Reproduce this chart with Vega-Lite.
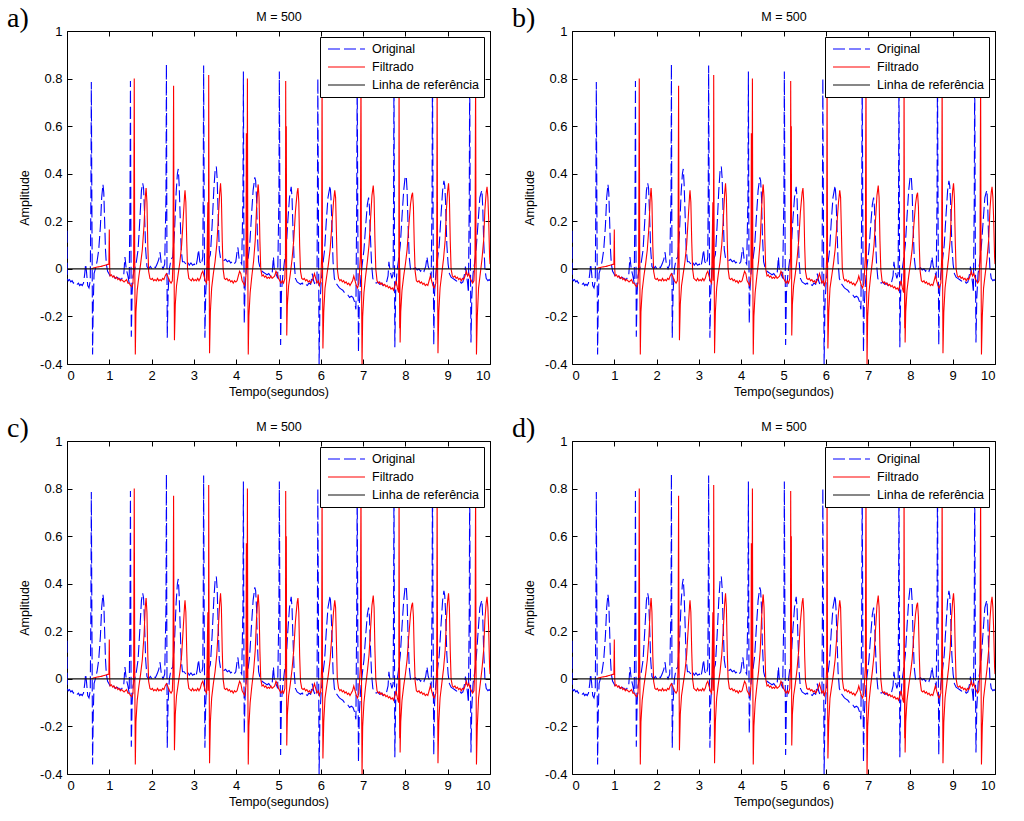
{
"$schema":"https://vega.github.io/schema/vega-lite/v6.json",
"background":"white",
"padding":{"left":6,"top":4,"right":5,"bottom":5},
"config":{
 "view":{"stroke":"black","strokeWidth":1},
 "font":"Liberation Sans",
 "axis":{"grid":false,"domain":false,"tickColor":"black","tickSize":-5,"labelFont":"Liberation Sans","labelFontSize":13,"labelColor":"black","titleFont":"Liberation Sans","titleFontSize":12.5,"titleFontWeight":"normal","titleColor":"black","labelPadding":10},
 "legend":{"orient":"top-right","offset":6,"strokeColor":"black","fillColor":"white","padding":4,"symbolType":"M-0.86,0H0.86","symbolSize":1849,"symbolOffset":0,"clipHeight":16,"symbolStrokeWidth":1.2,"labelFontSize":12.5,"labelFont":"Liberation Sans","labelColor":"black","rowPadding":2,"labelOffset":3,"cornerRadius":0}
},
"datasets":{"ecg":[
{"t":0,"v":0.16,"s":"Original"},{"t":0.005,"v":-0.04,"s":"Original"},{"t":0.03,"v":-0.05,"s":"Original"},{"t":0.06,"v":-0.045,"s":"Original"},{"t":0.09,"v":-0.055,"s":"Original"},{"t":0.12,"v":-0.05,"s":"Original"},{"t":0.15,"v":-0.06,"s":"Original"},{"t":0.18,"v":-0.055,"s":"Original"},{"t":0.21,"v":-0.06,"s":"Original"},{"t":0.24,"v":-0.065,"s":"Original"},{"t":0.27,"v":-0.06,"s":"Original"},{"t":0.3,"v":-0.07,"s":"Original"},{"t":0.33,"v":-0.065,"s":"Original"},{"t":0.36,"v":-0.07,"s":"Original"},{"t":0.39,"v":-0.06,"s":"Original"},{"t":0.42,"v":-0.02,"s":"Original"},{"t":0.44,"v":0.02,"s":"Original"},{"t":0.46,"v":-0.01,"s":"Original"},{"t":0.49,"v":-0.07,"s":"Original"},{"t":0.52,"v":-0.08,"s":"Original"},{"t":0.55,"v":-0.05,"s":"Original"},{"t":0.565,"v":0.3,"s":"Original"},{"t":0.575,"v":0.786,"s":"Original"},{"t":0.59,"v":0.2,"s":"Original"},{"t":0.605,"v":-0.36,"s":"Original"},{"t":0.62,"v":-0.15,"s":"Original"},{"t":0.64,"v":-0.02,"s":"Original"},{"t":0.67,"v":0,"s":"Original"},{"t":0.71,"v":0.03,"s":"Original"},{"t":0.75,"v":0.08,"s":"Original"},{"t":0.79,"v":0.18,"s":"Original"},{"t":0.82,"v":0.3,"s":"Original"},{"t":0.85,"v":0.355,"s":"Original"},{"t":0.87,"v":0.32,"s":"Original"},{"t":0.89,"v":0.2,"s":"Original"},{"t":0.91,"v":0.08,"s":"Original"},{"t":0.93,"v":0.02,"s":"Original"},{"t":0.96,"v":-0.01,"s":"Original"},{"t":0.99,"v":-0.02,"s":"Original"},{"t":1.02,"v":-0.03,"s":"Original"},{"t":1.06,"v":-0.035,"s":"Original"},{"t":1.1,"v":-0.03,"s":"Original"},{"t":1.14,"v":-0.04,"s":"Original"},{"t":1.18,"v":-0.035,"s":"Original"},{"t":1.22,"v":-0.04,"s":"Original"},{"t":1.26,"v":-0.045,"s":"Original"},{"t":1.3,"v":-0.04,"s":"Original"},{"t":1.34,"v":-0.03,"s":"Original"},{"t":1.37,"v":0.05,"s":"Original"},{"t":1.4,"v":0,"s":"Original"},{"t":1.44,"v":-0.03,"s":"Original"},{"t":1.47,"v":-0.06,"s":"Original"},{"t":1.49,"v":0.3,"s":"Original"},{"t":1.5,"v":0.79,"s":"Original"},{"t":1.51,"v":0.2,"s":"Original"},{"t":1.52,"v":-0.285,"s":"Original"},{"t":1.54,"v":-0.1,"s":"Original"},{"t":1.56,"v":-0.03,"s":"Original"},{"t":1.6,"v":0,"s":"Original"},{"t":1.64,"v":0.03,"s":"Original"},{"t":1.68,"v":0.08,"s":"Original"},{"t":1.72,"v":0.2,"s":"Original"},{"t":1.76,"v":0.33,"s":"Original"},{"t":1.79,"v":0.36,"s":"Original"},{"t":1.81,"v":0.34,"s":"Original"},{"t":1.83,"v":0.25,"s":"Original"},{"t":1.86,"v":0.08,"s":"Original"},{"t":1.89,"v":0.01,"s":"Original"},{"t":1.93,"v":0,"s":"Original"},{"t":1.97,"v":0.01,"s":"Original"},{"t":2.01,"v":0,"s":"Original"},{"t":2.05,"v":0.01,"s":"Original"},{"t":2.09,"v":0.005,"s":"Original"},{"t":2.13,"v":0.02,"s":"Original"},{"t":2.17,"v":0.04,"s":"Original"},{"t":2.2,"v":0.07,"s":"Original"},{"t":2.23,"v":0.02,"s":"Original"},{"t":2.27,"v":0,"s":"Original"},{"t":2.31,"v":0.02,"s":"Original"},{"t":2.34,"v":0.3,"s":"Original"},{"t":2.35,"v":0.86,"s":"Original"},{"t":2.36,"v":0.2,"s":"Original"},{"t":2.37,"v":-0.29,"s":"Original"},{"t":2.39,"v":-0.1,"s":"Original"},{"t":2.42,"v":0,"s":"Original"},{"t":2.46,"v":0.04,"s":"Original"},{"t":2.5,"v":0.05,"s":"Original"},{"t":2.54,"v":0.15,"s":"Original"},{"t":2.58,"v":0.32,"s":"Original"},{"t":2.61,"v":0.4,"s":"Original"},{"t":2.63,"v":0.42,"s":"Original"},{"t":2.65,"v":0.36,"s":"Original"},{"t":2.67,"v":0.25,"s":"Original"},{"t":2.7,"v":0.08,"s":"Original"},{"t":2.73,"v":0.03,"s":"Original"},{"t":2.77,"v":0.03,"s":"Original"},{"t":2.81,"v":0.02,"s":"Original"},{"t":2.85,"v":0.03,"s":"Original"},{"t":2.89,"v":0.015,"s":"Original"},{"t":2.93,"v":0.025,"s":"Original"},{"t":2.97,"v":0.015,"s":"Original"},{"t":3.01,"v":0.02,"s":"Original"},{"t":3.05,"v":0.01,"s":"Original"},{"t":3.08,"v":0.04,"s":"Original"},{"t":3.11,"v":0.08,"s":"Original"},{"t":3.14,"v":0.03,"s":"Original"},{"t":3.18,"v":0.02,"s":"Original"},{"t":3.21,"v":0.05,"s":"Original"},{"t":3.22,"v":0.3,"s":"Original"},{"t":3.23,"v":0.855,"s":"Original"},{"t":3.245,"v":0.2,"s":"Original"},{"t":3.26,"v":-0.29,"s":"Original"},{"t":3.28,"v":-0.1,"s":"Original"},{"t":3.31,"v":0,"s":"Original"},{"t":3.35,"v":0.04,"s":"Original"},{"t":3.39,"v":0.06,"s":"Original"},{"t":3.43,"v":0.18,"s":"Original"},{"t":3.47,"v":0.33,"s":"Original"},{"t":3.5,"v":0.41,"s":"Original"},{"t":3.53,"v":0.43,"s":"Original"},{"t":3.55,"v":0.38,"s":"Original"},{"t":3.57,"v":0.25,"s":"Original"},{"t":3.6,"v":0.08,"s":"Original"},{"t":3.63,"v":0.045,"s":"Original"},{"t":3.67,"v":0.04,"s":"Original"},{"t":3.71,"v":0.035,"s":"Original"},{"t":3.75,"v":0.04,"s":"Original"},{"t":3.79,"v":0.03,"s":"Original"},{"t":3.83,"v":0.035,"s":"Original"},{"t":3.87,"v":0.025,"s":"Original"},{"t":3.91,"v":0.03,"s":"Original"},{"t":3.95,"v":0.02,"s":"Original"},{"t":3.99,"v":0.03,"s":"Original"},{"t":4.02,"v":0.07,"s":"Original"},{"t":4.04,"v":0.09,"s":"Original"},{"t":4.07,"v":0.04,"s":"Original"},{"t":4.1,"v":0.03,"s":"Original"},{"t":4.13,"v":0.02,"s":"Original"},{"t":4.16,"v":0.3,"s":"Original"},{"t":4.17,"v":0.83,"s":"Original"},{"t":4.18,"v":0.2,"s":"Original"},{"t":4.19,"v":-0.23,"s":"Original"},{"t":4.21,"v":-0.08,"s":"Original"},{"t":4.24,"v":0,"s":"Original"},{"t":4.28,"v":0.04,"s":"Original"},{"t":4.32,"v":0.1,"s":"Original"},{"t":4.36,"v":0.22,"s":"Original"},{"t":4.4,"v":0.33,"s":"Original"},{"t":4.44,"v":0.385,"s":"Original"},{"t":4.46,"v":0.37,"s":"Original"},{"t":4.48,"v":0.3,"s":"Original"},{"t":4.5,"v":0.15,"s":"Original"},{"t":4.53,"v":0.03,"s":"Original"},{"t":4.57,"v":0,"s":"Original"},{"t":4.61,"v":-0.01,"s":"Original"},{"t":4.65,"v":-0.015,"s":"Original"},{"t":4.69,"v":-0.02,"s":"Original"},{"t":4.73,"v":-0.025,"s":"Original"},{"t":4.77,"v":-0.02,"s":"Original"},{"t":4.81,"v":-0.03,"s":"Original"},{"t":4.85,"v":-0.02,"s":"Original"},{"t":4.88,"v":0.05,"s":"Original"},{"t":4.9,"v":0,"s":"Original"},{"t":4.94,"v":-0.02,"s":"Original"},{"t":4.98,"v":-0.04,"s":"Original"},{"t":5.01,"v":0.3,"s":"Original"},{"t":5.02,"v":0.83,"s":"Original"},{"t":5.035,"v":0.2,"s":"Original"},{"t":5.05,"v":-0.32,"s":"Original"},{"t":5.07,"v":-0.1,"s":"Original"},{"t":5.1,"v":-0.03,"s":"Original"},{"t":5.14,"v":0.03,"s":"Original"},{"t":5.18,"v":0.08,"s":"Original"},{"t":5.22,"v":0.2,"s":"Original"},{"t":5.26,"v":0.3,"s":"Original"},{"t":5.3,"v":0.345,"s":"Original"},{"t":5.32,"v":0.3,"s":"Original"},{"t":5.34,"v":0.18,"s":"Original"},{"t":5.37,"v":0.03,"s":"Original"},{"t":5.4,"v":-0.04,"s":"Original"},{"t":5.44,"v":-0.055,"s":"Original"},{"t":5.48,"v":-0.06,"s":"Original"},{"t":5.52,"v":-0.065,"s":"Original"},{"t":5.56,"v":-0.06,"s":"Original"},{"t":5.6,"v":-0.07,"s":"Original"},{"t":5.64,"v":-0.065,"s":"Original"},{"t":5.68,"v":-0.07,"s":"Original"},{"t":5.72,"v":-0.06,"s":"Original"},{"t":5.76,"v":-0.065,"s":"Original"},{"t":5.8,"v":-0.02,"s":"Original"},{"t":5.83,"v":-0.05,"s":"Original"},{"t":5.87,"v":-0.07,"s":"Original"},{"t":5.91,"v":-0.05,"s":"Original"},{"t":5.92,"v":0.3,"s":"Original"},{"t":5.93,"v":0.8,"s":"Original"},{"t":5.945,"v":0.2,"s":"Original"},{"t":5.96,"v":-0.4,"s":"Original"},{"t":5.98,"v":-0.15,"s":"Original"},{"t":6.01,"v":-0.05,"s":"Original"},{"t":6.05,"v":0.02,"s":"Original"},{"t":6.09,"v":0.08,"s":"Original"},{"t":6.13,"v":0.2,"s":"Original"},{"t":6.17,"v":0.3,"s":"Original"},{"t":6.22,"v":0.35,"s":"Original"},{"t":6.24,"v":0.3,"s":"Original"},{"t":6.26,"v":0.2,"s":"Original"},{"t":6.29,"v":0.03,"s":"Original"},{"t":6.32,"v":-0.04,"s":"Original"},{"t":6.36,"v":-0.06,"s":"Original"},{"t":6.4,"v":-0.07,"s":"Original"},{"t":6.44,"v":-0.08,"s":"Original"},{"t":6.48,"v":-0.085,"s":"Original"},{"t":6.52,"v":-0.09,"s":"Original"},{"t":6.56,"v":-0.1,"s":"Original"},{"t":6.6,"v":-0.105,"s":"Original"},{"t":6.64,"v":-0.11,"s":"Original"},{"t":6.68,"v":-0.12,"s":"Original"},{"t":6.72,"v":-0.115,"s":"Original"},{"t":6.76,"v":-0.12,"s":"Original"},{"t":6.8,"v":-0.14,"s":"Original"},{"t":6.83,"v":-0.17,"s":"Original"},{"t":6.85,"v":0.3,"s":"Original"},{"t":6.86,"v":0.84,"s":"Original"},{"t":6.875,"v":0.2,"s":"Original"},{"t":6.89,"v":-0.35,"s":"Original"},{"t":6.91,"v":-0.15,"s":"Original"},{"t":6.94,"v":-0.05,"s":"Original"},{"t":6.98,"v":0.02,"s":"Original"},{"t":7.02,"v":0.08,"s":"Original"},{"t":7.06,"v":0.18,"s":"Original"},{"t":7.1,"v":0.27,"s":"Original"},{"t":7.13,"v":0.3,"s":"Original"},{"t":7.15,"v":0.26,"s":"Original"},{"t":7.17,"v":0.15,"s":"Original"},{"t":7.2,"v":0.02,"s":"Original"},{"t":7.23,"v":-0.04,"s":"Original"},{"t":7.27,"v":-0.055,"s":"Original"},{"t":7.31,"v":-0.06,"s":"Original"},{"t":7.35,"v":-0.055,"s":"Original"},{"t":7.39,"v":-0.065,"s":"Original"},{"t":7.43,"v":-0.06,"s":"Original"},{"t":7.47,"v":-0.07,"s":"Original"},{"t":7.51,"v":-0.065,"s":"Original"},{"t":7.55,"v":-0.06,"s":"Original"},{"t":7.59,"v":-0.03,"s":"Original"},{"t":7.61,"v":0.03,"s":"Original"},{"t":7.64,"v":-0.01,"s":"Original"},{"t":7.68,"v":-0.04,"s":"Original"},{"t":7.71,"v":-0.02,"s":"Original"},{"t":7.72,"v":0.3,"s":"Original"},{"t":7.73,"v":0.85,"s":"Original"},{"t":7.74,"v":0.2,"s":"Original"},{"t":7.75,"v":-0.33,"s":"Original"},{"t":7.77,"v":-0.1,"s":"Original"},{"t":7.8,"v":-0.01,"s":"Original"},{"t":7.84,"v":0.04,"s":"Original"},{"t":7.88,"v":0.1,"s":"Original"},{"t":7.92,"v":0.22,"s":"Original"},{"t":7.96,"v":0.33,"s":"Original"},{"t":7.99,"v":0.38,"s":"Original"},{"t":8.02,"v":0.39,"s":"Original"},{"t":8.04,"v":0.33,"s":"Original"},{"t":8.06,"v":0.2,"s":"Original"},{"t":8.09,"v":0.05,"s":"Original"},{"t":8.12,"v":0,"s":"Original"},{"t":8.16,"v":0.01,"s":"Original"},{"t":8.2,"v":0,"s":"Original"},{"t":8.24,"v":0.005,"s":"Original"},{"t":8.28,"v":-0.005,"s":"Original"},{"t":8.32,"v":0,"s":"Original"},{"t":8.36,"v":-0.01,"s":"Original"},{"t":8.4,"v":0,"s":"Original"},{"t":8.44,"v":-0.01,"s":"Original"},{"t":8.48,"v":0.01,"s":"Original"},{"t":8.51,"v":0.05,"s":"Original"},{"t":8.54,"v":0.01,"s":"Original"},{"t":8.58,"v":-0.01,"s":"Original"},{"t":8.61,"v":-0.04,"s":"Original"},{"t":8.63,"v":0.3,"s":"Original"},{"t":8.64,"v":0.85,"s":"Original"},{"t":8.655,"v":0.2,"s":"Original"},{"t":8.67,"v":-0.32,"s":"Original"},{"t":8.69,"v":-0.1,"s":"Original"},{"t":8.72,"v":-0.02,"s":"Original"},{"t":8.76,"v":0.04,"s":"Original"},{"t":8.8,"v":0.1,"s":"Original"},{"t":8.84,"v":0.22,"s":"Original"},{"t":8.88,"v":0.33,"s":"Original"},{"t":8.91,"v":0.37,"s":"Original"},{"t":8.93,"v":0.35,"s":"Original"},{"t":8.95,"v":0.28,"s":"Original"},{"t":8.98,"v":0.1,"s":"Original"},{"t":9.01,"v":0.02,"s":"Original"},{"t":9.04,"v":-0.02,"s":"Original"},{"t":9.08,"v":-0.035,"s":"Original"},{"t":9.12,"v":-0.04,"s":"Original"},{"t":9.16,"v":-0.045,"s":"Original"},{"t":9.2,"v":-0.05,"s":"Original"},{"t":9.24,"v":-0.055,"s":"Original"},{"t":9.28,"v":-0.05,"s":"Original"},{"t":9.32,"v":-0.06,"s":"Original"},{"t":9.36,"v":-0.055,"s":"Original"},{"t":9.4,"v":-0.02,"s":"Original"},{"t":9.42,"v":0.01,"s":"Original"},{"t":9.44,"v":-0.02,"s":"Original"},{"t":9.47,"v":-0.06,"s":"Original"},{"t":9.49,"v":-0.1,"s":"Original"},{"t":9.51,"v":0.3,"s":"Original"},{"t":9.52,"v":0.85,"s":"Original"},{"t":9.535,"v":0.1,"s":"Original"},{"t":9.55,"v":-0.31,"s":"Original"},{"t":9.57,"v":-0.12,"s":"Original"},{"t":9.6,"v":-0.02,"s":"Original"},{"t":9.64,"v":0.03,"s":"Original"},{"t":9.68,"v":0.1,"s":"Original"},{"t":9.72,"v":0.2,"s":"Original"},{"t":9.76,"v":0.3,"s":"Original"},{"t":9.79,"v":0.32,"s":"Original"},{"t":9.81,"v":0.33,"s":"Original"},{"t":9.83,"v":0.25,"s":"Original"},{"t":9.85,"v":0.12,"s":"Original"},{"t":9.88,"v":0,"s":"Original"},{"t":9.91,"v":-0.04,"s":"Original"},{"t":9.95,"v":-0.05,"s":"Original"},{"t":9.98,"v":-0.045,"s":"Original"},{"t":10,"v":-0.05,"s":"Original"},
{"t":0.58,"v":0,"s":"Filtrado"},{"t":0.65,"v":0.005,"s":"Filtrado"},{"t":0.72,"v":0.008,"s":"Filtrado"},{"t":0.8,"v":0.01,"s":"Filtrado"},{"t":0.88,"v":0.014,"s":"Filtrado"},{"t":0.95,"v":0.018,"s":"Filtrado"},{"t":0.99,"v":0.02,"s":"Filtrado"},{"t":1,"v":0.165,"s":"Filtrado"},{"t":1.01,"v":0,"s":"Filtrado"},{"t":1.02,"v":-0.03,"s":"Filtrado"},{"t":1.05,"v":-0.025,"s":"Filtrado"},{"t":1.08,"v":-0.035,"s":"Filtrado"},{"t":1.11,"v":-0.03,"s":"Filtrado"},{"t":1.14,"v":-0.04,"s":"Filtrado"},{"t":1.17,"v":-0.035,"s":"Filtrado"},{"t":1.2,"v":-0.045,"s":"Filtrado"},{"t":1.23,"v":-0.04,"s":"Filtrado"},{"t":1.26,"v":-0.05,"s":"Filtrado"},{"t":1.29,"v":-0.045,"s":"Filtrado"},{"t":1.32,"v":-0.05,"s":"Filtrado"},{"t":1.35,"v":-0.055,"s":"Filtrado"},{"t":1.38,"v":-0.05,"s":"Filtrado"},{"t":1.41,"v":-0.045,"s":"Filtrado"},{"t":1.44,"v":-0.06,"s":"Filtrado"},{"t":1.47,"v":-0.06,"s":"Filtrado"},{"t":1.5,"v":-0.07,"s":"Filtrado"},{"t":1.53,"v":-0.075,"s":"Filtrado"},{"t":1.56,"v":-0.06,"s":"Filtrado"},{"t":1.575,"v":0.02,"s":"Filtrado"},{"t":1.59,"v":0.8,"s":"Filtrado"},{"t":1.6,"v":0.1,"s":"Filtrado"},{"t":1.615,"v":-0.36,"s":"Filtrado"},{"t":1.63,"v":-0.18,"s":"Filtrado"},{"t":1.66,"v":-0.09,"s":"Filtrado"},{"t":1.7,"v":-0.03,"s":"Filtrado"},{"t":1.74,"v":0.02,"s":"Filtrado"},{"t":1.78,"v":0.08,"s":"Filtrado"},{"t":1.82,"v":0.18,"s":"Filtrado"},{"t":1.85,"v":0.3,"s":"Filtrado"},{"t":1.87,"v":0.34,"s":"Filtrado"},{"t":1.89,"v":0.28,"s":"Filtrado"},{"t":1.91,"v":0.1,"s":"Filtrado"},{"t":1.93,"v":-0.01,"s":"Filtrado"},{"t":1.96,"v":-0.04,"s":"Filtrado"},{"t":1.99,"v":-0.045,"s":"Filtrado"},{"t":2.02,"v":-0.04,"s":"Filtrado"},{"t":2.05,"v":-0.05,"s":"Filtrado"},{"t":2.08,"v":-0.045,"s":"Filtrado"},{"t":2.11,"v":-0.05,"s":"Filtrado"},{"t":2.14,"v":-0.04,"s":"Filtrado"},{"t":2.17,"v":-0.05,"s":"Filtrado"},{"t":2.2,"v":-0.045,"s":"Filtrado"},{"t":2.23,"v":-0.05,"s":"Filtrado"},{"t":2.26,"v":-0.04,"s":"Filtrado"},{"t":2.29,"v":-0.045,"s":"Filtrado"},{"t":2.32,"v":-0.03,"s":"Filtrado"},{"t":2.35,"v":-0.02,"s":"Filtrado"},{"t":2.38,"v":-0.03,"s":"Filtrado"},{"t":2.42,"v":-0.05,"s":"Filtrado"},{"t":2.46,"v":-0.06,"s":"Filtrado"},{"t":2.49,"v":-0.05,"s":"Filtrado"},{"t":2.505,"v":0.03,"s":"Filtrado"},{"t":2.52,"v":0.77,"s":"Filtrado"},{"t":2.53,"v":0.1,"s":"Filtrado"},{"t":2.54,"v":-0.3,"s":"Filtrado"},{"t":2.56,"v":-0.15,"s":"Filtrado"},{"t":2.59,"v":-0.07,"s":"Filtrado"},{"t":2.63,"v":-0.02,"s":"Filtrado"},{"t":2.67,"v":0.03,"s":"Filtrado"},{"t":2.71,"v":0.1,"s":"Filtrado"},{"t":2.75,"v":0.22,"s":"Filtrado"},{"t":2.78,"v":0.31,"s":"Filtrado"},{"t":2.79,"v":0.33,"s":"Filtrado"},{"t":2.81,"v":0.28,"s":"Filtrado"},{"t":2.83,"v":0.12,"s":"Filtrado"},{"t":2.85,"v":0,"s":"Filtrado"},{"t":2.88,"v":-0.04,"s":"Filtrado"},{"t":2.91,"v":-0.045,"s":"Filtrado"},{"t":2.94,"v":-0.05,"s":"Filtrado"},{"t":2.97,"v":-0.04,"s":"Filtrado"},{"t":3,"v":-0.05,"s":"Filtrado"},{"t":3.03,"v":-0.045,"s":"Filtrado"},{"t":3.06,"v":-0.05,"s":"Filtrado"},{"t":3.09,"v":-0.04,"s":"Filtrado"},{"t":3.12,"v":-0.05,"s":"Filtrado"},{"t":3.15,"v":-0.04,"s":"Filtrado"},{"t":3.18,"v":-0.02,"s":"Filtrado"},{"t":3.21,"v":-0.01,"s":"Filtrado"},{"t":3.24,"v":-0.03,"s":"Filtrado"},{"t":3.27,"v":-0.05,"s":"Filtrado"},{"t":3.3,"v":-0.06,"s":"Filtrado"},{"t":3.33,"v":0.28,"s":"Filtrado"},{"t":3.335,"v":-0.05,"s":"Filtrado"},{"t":3.345,"v":0.05,"s":"Filtrado"},{"t":3.35,"v":0.815,"s":"Filtrado"},{"t":3.36,"v":0.1,"s":"Filtrado"},{"t":3.37,"v":-0.355,"s":"Filtrado"},{"t":3.39,"v":-0.18,"s":"Filtrado"},{"t":3.42,"v":-0.08,"s":"Filtrado"},{"t":3.46,"v":-0.02,"s":"Filtrado"},{"t":3.5,"v":0.03,"s":"Filtrado"},{"t":3.54,"v":0.1,"s":"Filtrado"},{"t":3.58,"v":0.22,"s":"Filtrado"},{"t":3.61,"v":0.32,"s":"Filtrado"},{"t":3.63,"v":0.36,"s":"Filtrado"},{"t":3.65,"v":0.3,"s":"Filtrado"},{"t":3.67,"v":0.12,"s":"Filtrado"},{"t":3.69,"v":0,"s":"Filtrado"},{"t":3.72,"v":-0.04,"s":"Filtrado"},{"t":3.75,"v":-0.045,"s":"Filtrado"},{"t":3.78,"v":-0.04,"s":"Filtrado"},{"t":3.81,"v":-0.05,"s":"Filtrado"},{"t":3.84,"v":-0.045,"s":"Filtrado"},{"t":3.87,"v":-0.055,"s":"Filtrado"},{"t":3.9,"v":-0.05,"s":"Filtrado"},{"t":3.93,"v":-0.06,"s":"Filtrado"},{"t":3.96,"v":-0.05,"s":"Filtrado"},{"t":3.99,"v":-0.055,"s":"Filtrado"},{"t":4.02,"v":-0.05,"s":"Filtrado"},{"t":4.05,"v":-0.03,"s":"Filtrado"},{"t":4.08,"v":-0.01,"s":"Filtrado"},{"t":4.11,"v":-0.02,"s":"Filtrado"},{"t":4.14,"v":-0.05,"s":"Filtrado"},{"t":4.17,"v":-0.06,"s":"Filtrado"},{"t":4.2,"v":-0.07,"s":"Filtrado"},{"t":4.23,"v":-0.03,"s":"Filtrado"},{"t":4.24,"v":0.57,"s":"Filtrado"},{"t":4.25,"v":0,"s":"Filtrado"},{"t":4.255,"v":0.1,"s":"Filtrado"},{"t":4.265,"v":0.8,"s":"Filtrado"},{"t":4.275,"v":0,"s":"Filtrado"},{"t":4.285,"v":-0.36,"s":"Filtrado"},{"t":4.3,"v":-0.2,"s":"Filtrado"},{"t":4.33,"v":-0.1,"s":"Filtrado"},{"t":4.37,"v":-0.03,"s":"Filtrado"},{"t":4.41,"v":0.03,"s":"Filtrado"},{"t":4.45,"v":0.12,"s":"Filtrado"},{"t":4.48,"v":0.25,"s":"Filtrado"},{"t":4.51,"v":0.34,"s":"Filtrado"},{"t":4.52,"v":0.355,"s":"Filtrado"},{"t":4.54,"v":0.3,"s":"Filtrado"},{"t":4.56,"v":0.12,"s":"Filtrado"},{"t":4.58,"v":0,"s":"Filtrado"},{"t":4.61,"v":-0.03,"s":"Filtrado"},{"t":4.64,"v":-0.025,"s":"Filtrado"},{"t":4.67,"v":-0.035,"s":"Filtrado"},{"t":4.7,"v":-0.03,"s":"Filtrado"},{"t":4.73,"v":-0.04,"s":"Filtrado"},{"t":4.76,"v":-0.035,"s":"Filtrado"},{"t":4.79,"v":-0.04,"s":"Filtrado"},{"t":4.82,"v":-0.03,"s":"Filtrado"},{"t":4.85,"v":-0.04,"s":"Filtrado"},{"t":4.88,"v":-0.035,"s":"Filtrado"},{"t":4.91,"v":-0.03,"s":"Filtrado"},{"t":4.94,"v":-0.01,"s":"Filtrado"},{"t":4.97,"v":-0.02,"s":"Filtrado"},{"t":5,"v":-0.04,"s":"Filtrado"},{"t":5.03,"v":-0.05,"s":"Filtrado"},{"t":5.06,"v":-0.06,"s":"Filtrado"},{"t":5.09,"v":-0.05,"s":"Filtrado"},{"t":5.12,"v":-0.06,"s":"Filtrado"},{"t":5.15,"v":-0.04,"s":"Filtrado"},{"t":5.165,"v":0.05,"s":"Filtrado"},{"t":5.17,"v":0.79,"s":"Filtrado"},{"t":5.18,"v":0.1,"s":"Filtrado"},{"t":5.185,"v":0.6,"s":"Filtrado"},{"t":5.195,"v":-0.28,"s":"Filtrado"},{"t":5.21,"v":-0.15,"s":"Filtrado"},{"t":5.24,"v":-0.07,"s":"Filtrado"},{"t":5.28,"v":-0.02,"s":"Filtrado"},{"t":5.32,"v":0.04,"s":"Filtrado"},{"t":5.36,"v":0.12,"s":"Filtrado"},{"t":5.4,"v":0.24,"s":"Filtrado"},{"t":5.44,"v":0.32,"s":"Filtrado"},{"t":5.46,"v":0.34,"s":"Filtrado"},{"t":5.48,"v":0.28,"s":"Filtrado"},{"t":5.5,"v":0.1,"s":"Filtrado"},{"t":5.52,"v":-0.01,"s":"Filtrado"},{"t":5.55,"v":-0.04,"s":"Filtrado"},{"t":5.58,"v":-0.045,"s":"Filtrado"},{"t":5.61,"v":-0.04,"s":"Filtrado"},{"t":5.64,"v":-0.05,"s":"Filtrado"},{"t":5.67,"v":-0.045,"s":"Filtrado"},{"t":5.7,"v":-0.055,"s":"Filtrado"},{"t":5.73,"v":-0.05,"s":"Filtrado"},{"t":5.76,"v":-0.06,"s":"Filtrado"},{"t":5.79,"v":-0.05,"s":"Filtrado"},{"t":5.82,"v":-0.04,"s":"Filtrado"},{"t":5.85,"v":-0.02,"s":"Filtrado"},{"t":5.88,"v":-0.04,"s":"Filtrado"},{"t":5.91,"v":-0.06,"s":"Filtrado"},{"t":5.94,"v":-0.05,"s":"Filtrado"},{"t":5.97,"v":-0.07,"s":"Filtrado"},{"t":6,"v":-0.05,"s":"Filtrado"},{"t":6.02,"v":0.05,"s":"Filtrado"},{"t":6.03,"v":0.82,"s":"Filtrado"},{"t":6.04,"v":0.05,"s":"Filtrado"},{"t":6.05,"v":-0.335,"s":"Filtrado"},{"t":6.07,"v":-0.18,"s":"Filtrado"},{"t":6.1,"v":-0.08,"s":"Filtrado"},{"t":6.14,"v":-0.03,"s":"Filtrado"},{"t":6.18,"v":0.02,"s":"Filtrado"},{"t":6.22,"v":0.08,"s":"Filtrado"},{"t":6.26,"v":0.18,"s":"Filtrado"},{"t":6.3,"v":0.28,"s":"Filtrado"},{"t":6.33,"v":0.33,"s":"Filtrado"},{"t":6.35,"v":0.3,"s":"Filtrado"},{"t":6.37,"v":0.15,"s":"Filtrado"},{"t":6.39,"v":0,"s":"Filtrado"},{"t":6.42,"v":-0.04,"s":"Filtrado"},{"t":6.45,"v":-0.05,"s":"Filtrado"},{"t":6.48,"v":-0.045,"s":"Filtrado"},{"t":6.51,"v":-0.055,"s":"Filtrado"},{"t":6.54,"v":-0.05,"s":"Filtrado"},{"t":6.57,"v":-0.06,"s":"Filtrado"},{"t":6.6,"v":-0.055,"s":"Filtrado"},{"t":6.63,"v":-0.065,"s":"Filtrado"},{"t":6.66,"v":-0.06,"s":"Filtrado"},{"t":6.69,"v":-0.07,"s":"Filtrado"},{"t":6.72,"v":-0.06,"s":"Filtrado"},{"t":6.75,"v":-0.05,"s":"Filtrado"},{"t":6.78,"v":-0.03,"s":"Filtrado"},{"t":6.81,"v":-0.05,"s":"Filtrado"},{"t":6.84,"v":-0.07,"s":"Filtrado"},{"t":6.87,"v":-0.08,"s":"Filtrado"},{"t":6.9,"v":-0.06,"s":"Filtrado"},{"t":6.935,"v":0.05,"s":"Filtrado"},{"t":6.95,"v":0.82,"s":"Filtrado"},{"t":6.96,"v":0.05,"s":"Filtrado"},{"t":6.975,"v":-0.4,"s":"Filtrado"},{"t":6.99,"v":-0.2,"s":"Filtrado"},{"t":7.02,"v":-0.1,"s":"Filtrado"},{"t":7.06,"v":-0.03,"s":"Filtrado"},{"t":7.1,"v":0.03,"s":"Filtrado"},{"t":7.14,"v":0.1,"s":"Filtrado"},{"t":7.18,"v":0.22,"s":"Filtrado"},{"t":7.21,"v":0.31,"s":"Filtrado"},{"t":7.24,"v":0.35,"s":"Filtrado"},{"t":7.26,"v":0.3,"s":"Filtrado"},{"t":7.28,"v":0.12,"s":"Filtrado"},{"t":7.3,"v":0,"s":"Filtrado"},{"t":7.33,"v":-0.05,"s":"Filtrado"},{"t":7.36,"v":-0.06,"s":"Filtrado"},{"t":7.39,"v":-0.055,"s":"Filtrado"},{"t":7.42,"v":-0.065,"s":"Filtrado"},{"t":7.45,"v":-0.06,"s":"Filtrado"},{"t":7.48,"v":-0.07,"s":"Filtrado"},{"t":7.51,"v":-0.065,"s":"Filtrado"},{"t":7.54,"v":-0.075,"s":"Filtrado"},{"t":7.57,"v":-0.07,"s":"Filtrado"},{"t":7.6,"v":-0.08,"s":"Filtrado"},{"t":7.63,"v":-0.075,"s":"Filtrado"},{"t":7.66,"v":-0.085,"s":"Filtrado"},{"t":7.69,"v":-0.08,"s":"Filtrado"},{"t":7.72,"v":-0.09,"s":"Filtrado"},{"t":7.75,"v":-0.07,"s":"Filtrado"},{"t":7.78,"v":-0.05,"s":"Filtrado"},{"t":7.81,"v":-0.08,"s":"Filtrado"},{"t":7.84,"v":-0.1,"s":"Filtrado"},{"t":7.845,"v":0.05,"s":"Filtrado"},{"t":7.85,"v":0.82,"s":"Filtrado"},{"t":7.86,"v":0,"s":"Filtrado"},{"t":7.865,"v":-0.25,"s":"Filtrado"},{"t":7.87,"v":0,"s":"Filtrado"},{"t":7.875,"v":-0.31,"s":"Filtrado"},{"t":7.89,"v":-0.18,"s":"Filtrado"},{"t":7.92,"v":-0.09,"s":"Filtrado"},{"t":7.96,"v":-0.03,"s":"Filtrado"},{"t":8,"v":0.02,"s":"Filtrado"},{"t":8.04,"v":0.08,"s":"Filtrado"},{"t":8.08,"v":0.18,"s":"Filtrado"},{"t":8.12,"v":0.27,"s":"Filtrado"},{"t":8.15,"v":0.31,"s":"Filtrado"},{"t":8.17,"v":0.32,"s":"Filtrado"},{"t":8.19,"v":0.26,"s":"Filtrado"},{"t":8.21,"v":0.1,"s":"Filtrado"},{"t":8.23,"v":-0.01,"s":"Filtrado"},{"t":8.26,"v":-0.05,"s":"Filtrado"},{"t":8.29,"v":-0.055,"s":"Filtrado"},{"t":8.32,"v":-0.05,"s":"Filtrado"},{"t":8.35,"v":-0.06,"s":"Filtrado"},{"t":8.38,"v":-0.055,"s":"Filtrado"},{"t":8.41,"v":-0.065,"s":"Filtrado"},{"t":8.44,"v":-0.06,"s":"Filtrado"},{"t":8.47,"v":-0.07,"s":"Filtrado"},{"t":8.5,"v":-0.065,"s":"Filtrado"},{"t":8.53,"v":-0.07,"s":"Filtrado"},{"t":8.56,"v":-0.05,"s":"Filtrado"},{"t":8.59,"v":-0.03,"s":"Filtrado"},{"t":8.62,"v":-0.05,"s":"Filtrado"},{"t":8.65,"v":-0.07,"s":"Filtrado"},{"t":8.68,"v":-0.08,"s":"Filtrado"},{"t":8.72,"v":-0.06,"s":"Filtrado"},{"t":8.74,"v":0.05,"s":"Filtrado"},{"t":8.75,"v":0.82,"s":"Filtrado"},{"t":8.76,"v":0.05,"s":"Filtrado"},{"t":8.77,"v":-0.355,"s":"Filtrado"},{"t":8.79,"v":-0.18,"s":"Filtrado"},{"t":8.82,"v":-0.08,"s":"Filtrado"},{"t":8.86,"v":-0.02,"s":"Filtrado"},{"t":8.9,"v":0.04,"s":"Filtrado"},{"t":8.94,"v":0.12,"s":"Filtrado"},{"t":8.97,"v":0.25,"s":"Filtrado"},{"t":9,"v":0.33,"s":"Filtrado"},{"t":9.02,"v":0.36,"s":"Filtrado"},{"t":9.04,"v":0.3,"s":"Filtrado"},{"t":9.06,"v":0.12,"s":"Filtrado"},{"t":9.08,"v":0,"s":"Filtrado"},{"t":9.11,"v":-0.03,"s":"Filtrado"},{"t":9.14,"v":-0.035,"s":"Filtrado"},{"t":9.17,"v":-0.03,"s":"Filtrado"},{"t":9.2,"v":-0.04,"s":"Filtrado"},{"t":9.23,"v":-0.035,"s":"Filtrado"},{"t":9.26,"v":-0.045,"s":"Filtrado"},{"t":9.29,"v":-0.04,"s":"Filtrado"},{"t":9.32,"v":-0.05,"s":"Filtrado"},{"t":9.35,"v":-0.04,"s":"Filtrado"},{"t":9.38,"v":-0.045,"s":"Filtrado"},{"t":9.41,"v":-0.03,"s":"Filtrado"},{"t":9.44,"v":-0.01,"s":"Filtrado"},{"t":9.47,"v":-0.03,"s":"Filtrado"},{"t":9.5,"v":-0.02,"s":"Filtrado"},{"t":9.53,"v":-0.04,"s":"Filtrado"},{"t":9.56,"v":-0.05,"s":"Filtrado"},{"t":9.59,"v":-0.06,"s":"Filtrado"},{"t":9.62,"v":-0.05,"s":"Filtrado"},{"t":9.645,"v":0.05,"s":"Filtrado"},{"t":9.66,"v":0.82,"s":"Filtrado"},{"t":9.67,"v":0.05,"s":"Filtrado"},{"t":9.68,"v":-0.36,"s":"Filtrado"},{"t":9.7,"v":-0.2,"s":"Filtrado"},{"t":9.73,"v":-0.08,"s":"Filtrado"},{"t":9.77,"v":-0.02,"s":"Filtrado"},{"t":9.81,"v":0.04,"s":"Filtrado"},{"t":9.85,"v":0.12,"s":"Filtrado"},{"t":9.88,"v":0.25,"s":"Filtrado"},{"t":9.91,"v":0.32,"s":"Filtrado"},{"t":9.93,"v":0.345,"s":"Filtrado"},{"t":9.95,"v":0.3,"s":"Filtrado"},{"t":9.97,"v":0.2,"s":"Filtrado"},{"t":9.99,"v":0.05,"s":"Filtrado"},{"t":10,"v":0.02,"s":"Filtrado"},
{"t":0,"v":0,"s":"Linha de referência"},{"t":10,"v":0,"s":"Linha de referência"}
]},
"columns":2,
"spacing":{"row":77,"column":82},
"bounds":"flush",
"resolve":{"scale":{"color":"independent","strokeDash":"independent"}},
"concat":[
{"width":423,"height":333,"title":{"text":"a)","anchor":"start","frame":"group","dx":-60,"dy":26,"font":"Liberation Serif","fontSize":28,"fontWeight":"normal","color":"black"},
 "data":{"name":"ecg"},
 "layer":[
  {"mark":{"type":"line","strokeWidth":1.1,"clip":true},
   "encoding":{
    "x":{"field":"t","type":"quantitative","scale":{"domain":[0,10],"nice":false},"axis":{"orient":"bottom","values":[0,1,2,3,4,5,6,7,8,9,10],"title":"Tempo(segundos)","titlePadding":3}},
    "y":{"field":"v","type":"quantitative","scale":{"domain":[-0.4,1],"nice":false,"zero":false},"axis":{"orient":"left","values":[-0.4,-0.2,0,0.2,0.4,0.6,0.8,1],"title":"Amplitude","titlePadding":8,"labelExpr":"datum.value < 0 ? '-' + format(-datum.value, '~g') : format(datum.value, '~g')"}},
    "color":{"field":"s","type":"nominal","scale":{"domain":["Original","Filtrado","Linha de referência"],"range":["#0000ff","#ff0000","#111111"]},"legend":{"title":null}},
    "strokeDash":{"field":"s","type":"nominal","scale":{"domain":["Original","Filtrado","Linha de referência"],"range":[[12,4],[1,0],[1,0]]},"legend":{"title":null}}
   }},
  {"transform":[{"filter":"datum.s == 'Linha de referência'"}],
   "mark":{"type":"line","opacity":0},
   "encoding":{
    "x":{"field":"t","type":"quantitative","axis":{"orient":"top","labels":false,"title":"M = 500","titlePadding":7}},
    "y":{"field":"v","type":"quantitative","axis":{"orient":"right","labels":false,"title":null}}
   }}
 ],
 "resolve":{"axis":{"x":"independent","y":"independent"}}
},
{"width":423,"height":333,"title":{"text":"b)","anchor":"start","frame":"group","dx":-60,"dy":26,"font":"Liberation Serif","fontSize":28,"fontWeight":"normal","color":"black"},
 "data":{"name":"ecg"},
 "layer":[
  {"mark":{"type":"line","strokeWidth":1.1,"clip":true},
   "encoding":{
    "x":{"field":"t","type":"quantitative","scale":{"domain":[0,10],"nice":false},"axis":{"orient":"bottom","values":[0,1,2,3,4,5,6,7,8,9,10],"title":"Tempo(segundos)","titlePadding":3}},
    "y":{"field":"v","type":"quantitative","scale":{"domain":[-0.4,1],"nice":false,"zero":false},"axis":{"orient":"left","values":[-0.4,-0.2,0,0.2,0.4,0.6,0.8,1],"title":"Amplitude","titlePadding":8,"labelExpr":"datum.value < 0 ? '-' + format(-datum.value, '~g') : format(datum.value, '~g')"}},
    "color":{"field":"s","type":"nominal","scale":{"domain":["Original","Filtrado","Linha de referência"],"range":["#0000ff","#ff0000","#111111"]},"legend":{"title":null}},
    "strokeDash":{"field":"s","type":"nominal","scale":{"domain":["Original","Filtrado","Linha de referência"],"range":[[12,4],[1,0],[1,0]]},"legend":{"title":null}}
   }},
  {"transform":[{"filter":"datum.s == 'Linha de referência'"}],
   "mark":{"type":"line","opacity":0},
   "encoding":{
    "x":{"field":"t","type":"quantitative","axis":{"orient":"top","labels":false,"title":"M = 500","titlePadding":7}},
    "y":{"field":"v","type":"quantitative","axis":{"orient":"right","labels":false,"title":null}}
   }}
 ],
 "resolve":{"axis":{"x":"independent","y":"independent"}}
},
{"width":423,"height":333,"title":{"text":"c)","anchor":"start","frame":"group","dx":-60,"dy":26,"font":"Liberation Serif","fontSize":28,"fontWeight":"normal","color":"black"},
 "data":{"name":"ecg"},
 "layer":[
  {"mark":{"type":"line","strokeWidth":1.1,"clip":true},
   "encoding":{
    "x":{"field":"t","type":"quantitative","scale":{"domain":[0,10],"nice":false},"axis":{"orient":"bottom","values":[0,1,2,3,4,5,6,7,8,9,10],"title":"Tempo(segundos)","titlePadding":3}},
    "y":{"field":"v","type":"quantitative","scale":{"domain":[-0.4,1],"nice":false,"zero":false},"axis":{"orient":"left","values":[-0.4,-0.2,0,0.2,0.4,0.6,0.8,1],"title":"Amplitude","titlePadding":8,"labelExpr":"datum.value < 0 ? '-' + format(-datum.value, '~g') : format(datum.value, '~g')"}},
    "color":{"field":"s","type":"nominal","scale":{"domain":["Original","Filtrado","Linha de referência"],"range":["#0000ff","#ff0000","#111111"]},"legend":{"title":null}},
    "strokeDash":{"field":"s","type":"nominal","scale":{"domain":["Original","Filtrado","Linha de referência"],"range":[[12,4],[1,0],[1,0]]},"legend":{"title":null}}
   }},
  {"transform":[{"filter":"datum.s == 'Linha de referência'"}],
   "mark":{"type":"line","opacity":0},
   "encoding":{
    "x":{"field":"t","type":"quantitative","axis":{"orient":"top","labels":false,"title":"M = 500","titlePadding":7}},
    "y":{"field":"v","type":"quantitative","axis":{"orient":"right","labels":false,"title":null}}
   }}
 ],
 "resolve":{"axis":{"x":"independent","y":"independent"}}
},
{"width":423,"height":333,"title":{"text":"d)","anchor":"start","frame":"group","dx":-60,"dy":26,"font":"Liberation Serif","fontSize":28,"fontWeight":"normal","color":"black"},
 "data":{"name":"ecg"},
 "layer":[
  {"mark":{"type":"line","strokeWidth":1.1,"clip":true},
   "encoding":{
    "x":{"field":"t","type":"quantitative","scale":{"domain":[0,10],"nice":false},"axis":{"orient":"bottom","values":[0,1,2,3,4,5,6,7,8,9,10],"title":"Tempo(segundos)","titlePadding":3}},
    "y":{"field":"v","type":"quantitative","scale":{"domain":[-0.4,1],"nice":false,"zero":false},"axis":{"orient":"left","values":[-0.4,-0.2,0,0.2,0.4,0.6,0.8,1],"title":"Amplitude","titlePadding":8,"labelExpr":"datum.value < 0 ? '-' + format(-datum.value, '~g') : format(datum.value, '~g')"}},
    "color":{"field":"s","type":"nominal","scale":{"domain":["Original","Filtrado","Linha de referência"],"range":["#0000ff","#ff0000","#111111"]},"legend":{"title":null}},
    "strokeDash":{"field":"s","type":"nominal","scale":{"domain":["Original","Filtrado","Linha de referência"],"range":[[12,4],[1,0],[1,0]]},"legend":{"title":null}}
   }},
  {"transform":[{"filter":"datum.s == 'Linha de referência'"}],
   "mark":{"type":"line","opacity":0},
   "encoding":{
    "x":{"field":"t","type":"quantitative","axis":{"orient":"top","labels":false,"title":"M = 500","titlePadding":7}},
    "y":{"field":"v","type":"quantitative","axis":{"orient":"right","labels":false,"title":null}}
   }}
 ],
 "resolve":{"axis":{"x":"independent","y":"independent"}}
}
]
}
